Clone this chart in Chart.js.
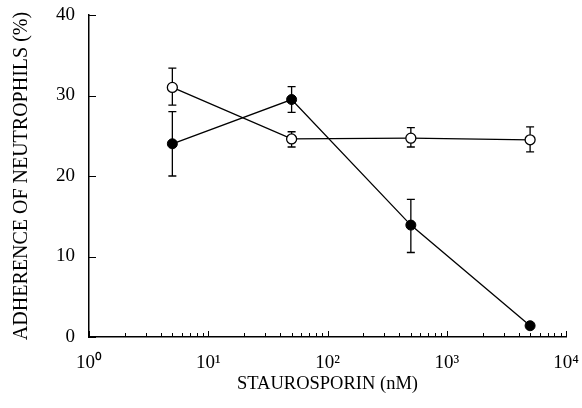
<!DOCTYPE html>
<html>
<head>
<meta charset="utf-8">
<script src="https://cdn.jsdelivr.net/npm/chart.js@4"></script>
<style>
  html, body { margin: 0; padding: 0; background: #fff; }
  #wrap { width: 582px; height: 408px; }
</style>
</head>
<body>
<div id="wrap"><canvas id="myChart"></canvas></div>
<script>
// concentracoes (nM) e valores
const concentrations = [5, 50, 500, 5000];
const openMean = [31, 24.6, 24.7, 24.5];
const openLow = [28.8, 23.6, 23.6, 23.0];
const openHigh = [33.4, 25.5, 26.0, 26.1];
const filledMean = [24, 29.5, 13.9, 1.4];
const filledLow = [20, 27.9, 10.5, null];
const filledHigh = [28, 31.1, 17.1, null];
const yTicks = [0, 10, 20, 30, 40];
const xDecades = [1, 10, 100, 1000, 10000];
const superscripts = ['\u2070', '\u00B9', '\u00B2', '\u00B3', '\u2074'];

const FONT = 'Liberation Serif, Times New Roman, serif';

function toPoints(xs, ys) {
    return xs.map((x, i) => ({x: x, y: ys[i]}));
}

// desenha barras de erro e marcas dos eixos (ticks para dentro)
const extrasPlugin = {
    id: 'extras',
    beforeDatasetsDraw(chart) {
        const ctx = chart.ctx;
        const xs = chart.scales.x;
        const ys = chart.scales.y;
        const sets = [[openLow, openHigh], [filledLow, filledHigh]];
        ctx.save();
        ctx.strokeStyle = '#000';
        ctx.lineWidth = 1.3;
        sets.forEach(([lo, hi]) => {
            concentrations.forEach((c, i) => {
                if (lo[i] == null) return;
                const px = xs.getPixelForValue(c);
                const pLo = ys.getPixelForValue(lo[i]);
                const pHi = ys.getPixelForValue(hi[i]);
                ctx.beginPath();
                ctx.moveTo(px, pLo);
                ctx.lineTo(px, pHi);
                ctx.moveTo(px - 4, pLo);
                ctx.lineTo(px + 4, pLo);
                ctx.moveTo(px - 4, pHi);
                ctx.lineTo(px + 4, pHi);
                ctx.stroke();
            });
        });
        ctx.restore();
    },
    afterDraw(chart) {
        const ctx = chart.ctx;
        const xs = chart.scales.x;
        const ys = chart.scales.y;
        const bottom = chart.chartArea.bottom;
        const left = chart.chartArea.left;
        ctx.save();
        ctx.strokeStyle = '#000';
        ctx.lineWidth = 1;
        ctx.beginPath();
        for (let d = 0; d < 4; d++) {
            for (let m = 2; m <= 9; m++) {
                const px = Math.round(xs.getPixelForValue(m * xDecades[d])) + 0.5;
                ctx.moveTo(px, bottom);
                ctx.lineTo(px, bottom - 4);
            }
        }
        xDecades.forEach(v => {
            const px = Math.round(xs.getPixelForValue(v)) + 0.5;
            ctx.moveTo(px, bottom);
            ctx.lineTo(px, bottom - 6);
        });
        yTicks.forEach(v => {
            const py = Math.round(ys.getPixelForValue(v)) + 0.5;
            ctx.moveTo(left, py);
            ctx.lineTo(left + 7, py);
        });
        ctx.stroke();
        ctx.restore();
    }
};

const ctx = document.getElementById('myChart').getContext('2d');
new Chart(ctx, {
    type: 'line',
    data: {
        datasets: [
            {
                label: 'open',
                data: toPoints(concentrations, openMean),
                borderColor: '#000',
                borderWidth: 1.3,
                backgroundColor: '#fff',
                pointBackgroundColor: '#fff',
                pointBorderColor: '#000',
                pointBorderWidth: 1.3,
                pointRadius: 5,
                tension: 0
            },
            {
                label: 'filled',
                data: toPoints(concentrations, filledMean),
                borderColor: '#000',
                borderWidth: 1.3,
                backgroundColor: '#000',
                pointBackgroundColor: '#000',
                pointBorderColor: '#000',
                pointBorderWidth: 1,
                pointRadius: 5,
                tension: 0
            }
        ]
    },
    options: {
        responsive: true,
        maintainAspectRatio: false,
        animation: false,
        layout: {
            padding: {left: 0, top: 15, right: 16, bottom: 0}
        },
        plugins: {
            legend: {display: false},
            tooltip: {enabled: false}
        },
        scales: {
            x: {
                type: 'logarithmic',
                min: 1,
                max: 10000,
                afterFit: function(scale) {
                    scale.height = 71;
                    scale.paddingLeft = 0;
                    scale.paddingRight = 0;
                },
                afterBuildTicks: function(scale) {
                    scale.ticks = xDecades.map(v => ({value: v}));
                },
                grid: {display: false, drawTicks: false},
                border: {display: true, color: '#000', width: 1.5},
                ticks: {
                    color: '#000',
                    padding: 15,
                    autoSkip: false,
                    maxRotation: 0,
                    font: {family: FONT, size: 19},
                    callback: function(value) {
                        const e = Math.round(Math.log10(value));
                        return '10' + superscripts[e];
                    }
                },
                title: {
                    display: true,
                    text: 'STAUROSPORIN (nM)',
                    color: '#000',
                    font: {family: FONT, size: 18.5},
                    padding: {top: 0, bottom: 13}
                }
            },
            y: {
                min: 0,
                max: 40,
                afterFit: function(scale) {
                    scale.width = 89;
                    scale.paddingTop = 0;
                    scale.paddingBottom = 0;
                },
                afterBuildTicks: function(scale) {
                    scale.ticks = yTicks.map(v => ({value: v}));
                },
                grid: {display: false, drawTicks: false},
                border: {display: true, color: '#000', width: 1.5},
                ticks: {
                    color: '#000',
                    padding: 14,
                    font: {family: FONT, size: 19}
                },
                title: {
                    display: true,
                    text: 'ADHERENCE OF NEUTROPHILS (%)',
                    color: '#000',
                    font: {family: FONT, size: 20},
                    padding: {top: 10, bottom: 0}
                }
            }
        }
    },
    plugins: [extrasPlugin]
});
</script>
</body>
</html>
